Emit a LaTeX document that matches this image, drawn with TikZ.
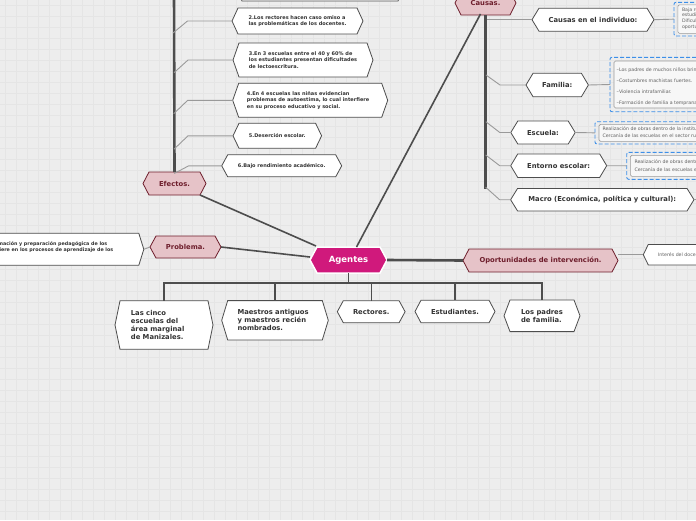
\documentclass[tikz,border=0pt]{standalone}
\usepackage{fontspec}
\setmainfont{DejaVu Sans}
\usetikzlibrary{calc}
\definecolor{bg}{HTML}{EDEDED}
\definecolor{gridc}{HTML}{E5E5E5}
\definecolor{mag}{HTML}{D0197C}
\definecolor{pinkf}{HTML}{E6C3C8}
\definecolor{maroon}{HTML}{6E1E2C}
\definecolor{dk}{HTML}{4D4D4D}
\definecolor{txt}{HTML}{333333}
\definecolor{lgray}{HTML}{9A9A9A}
\definecolor{blued}{HTML}{3D8FE8}
\definecolor{ngray}{HTML}{606060}
% name, cx, cy, half width, half height, point depth, path style, text style, text
\newcommand\hexbox[9]{%
  \path[#7] (#2-#4,#3) -- (#2-#4+#6,#3-#5) -- (#2+#4-#6,#3-#5) -- (#2+#4,#3)
     -- (#2+#4-#6,#3+#5) -- (#2-#4+#6,#3+#5) -- cycle;
  \node[shapebox, minimum width=2*#4, minimum height=2*#5] (#1) at (#2,#3) {};
  \node[#8] (#1t) at (#2,#3) {#9};
}
\begin{document}
\begin{tikzpicture}[x=1pt,y=-1pt,
  shapebox/.style={inner sep=0pt, outer sep=0pt, rectangle},
  hexc/.style={fill=mag, draw=white, line width=1.5pt},
  hext/.style={fill=pinkf, draw=maroon, line width=0.8pt},
  hexw/.style={fill=white, draw=dk, line width=0.8pt},
  ctext/.style={font=\fontsize{8.5}{10}\selectfont\bfseries, text=white, inner sep=0pt},
  ttext/.style={font=\fontsize{6.8}{8}\selectfont\bfseries, text=maroon, inner sep=0pt},
  wtext/.style={font=\fontsize{6.8}{8}\selectfont\bfseries, text=txt, inner sep=0pt, align=left},
  stext/.style={font=\fontsize{5}{6.5}\selectfont\bfseries, text=txt, inner sep=0pt, align=left},
  ntext/.style={font=\fontsize{4.7}{5.8}\selectfont, text=ngray, inner sep=0pt, align=left},
  mainline/.style={draw=dk, line width=1.6pt},
  mainthick/.style={draw=dk, line width=2.6pt},
  spine/.style={draw=dk, line width=2.6pt},
  branch/.style={draw=lgray, line width=0.9pt},
  barline/.style={draw=dk, line width=1.1pt},
  outerdash/.style={draw=blued, line width=0.9pt, dash pattern=on 4pt off 2pt, rounded corners=2pt, inner sep=0pt, outer sep=0pt},
  innerbox/.style={draw=lgray, fill=white!55!bg, line width=0.6pt, rounded corners=1.5pt, inner sep=0pt, outer sep=0pt},
  gridline/.style={draw=gridc, line width=0.5pt}
]
\useasboundingbox (0,0) rectangle (696,520);
\clip (0,0) rectangle (696,520);
\fill[bg] (0,0) rectangle (696,520);
\foreach \i in {5,16,...,696} \draw[gridline] (\i,0) -- (\i,520);
\foreach \j in {5,16,...,520} \draw[gridline] (0,\j) -- (696,\j);

\coordinate (eftop) at (174,-10);
\coordinate (bar) at (348.5,283);
\coordinate (maend) at (720,199.7);

% ---------- Efectos branch ----------
\hexbox{e1}{320}{-15}{84}{16}{6}{hexw}{stext}{}
\hexbox{e2}{297.5}{21}{65.5}{13}{6}{hexw}{stext}{2.Los rectores hacen caso omiso a\\las problemáticas de los docentes.}
\hexbox{e3}{303}{60}{70}{17}{6}{hexw}{stext}{3.En 3 escuelas entre el 40 y 60\% de\\los estudiantes presentan dificultades\\de lectoescritura.}
\hexbox{e4}{310.2}{100.3}{77.5}{17}{6}{hexw}{stext, anchor=west, xshift=-63.5pt}{4.En 4 escuelas las niñas evidencian\\problemas de autoestima, lo cual interfiere\\en su proceso educativo y social.}
\hexbox{e5}{277.3}{135.8}{44.3}{12.5}{6}{hexw}{stext}{5.Deserción escolar.}
\hexbox{e6}{281.7}{165.8}{60}{11}{6}{hexw}{stext}{6.Bajo rendimiento académico.}

% ---------- topics ----------
\hexbox{ef}{174.5}{183.5}{31.5}{11.5}{6}{hext}{ttext}{Efectos.}
\hexbox{ca}{485.5}{3}{30.5}{12}{6}{hext}{ttext}{Causas.}
\hexbox{pr}{185.5}{247}{35.5}{11}{6}{hext}{ttext}{Problema.}
\hexbox{op}{540.5}{260.5}{77.5}{11.5}{6}{hext}{ttext}{Oportunidades de intervención.}

% ---------- causas children ----------
\hexbox{ci}{593}{19.7}{61}{11.5}{7}{hexw}{wtext}{Causas en el individuo:}
\hexbox{fa}{557.2}{85}{31.2}{11.7}{7}{hexw}{wtext}{Familia:}
\hexbox{es}{543}{132.5}{32.2}{11.5}{7}{hexw}{wtext}{Escuela:}
\hexbox{en}{558.7}{165.7}{48}{11.7}{7}{hexw}{wtext}{Entorno escolar:}
\hexbox{ma}{602.3}{199.7}{91.7}{11.3}{7}{hexw}{wtext}{Macro (Económica, política y cultural):}

% ---------- notes ----------
\node[outerdash, minimum width=100, minimum height=33.7, anchor=north west] (n1) at (674,2.3) {};
\node[innerbox, minimum width=100, minimum height=28.5, anchor=north west] (n1i) at (677.8,4.8) {};
\node[ntext, anchor=north west] (n1t) at (681.8,7.2) {Baja rendimiento académico de los\\estudiantes.\\Dificultades de aprendizaje no\\oportunamente atendidas.};

\node[outerdash, minimum width=100, minimum height=54.4, anchor=north west] (n2) at (610,57.3) {};
\node[innerbox, minimum width=100, minimum height=47, anchor=north west] (n2i) at (614,61) {};
\node[ntext, anchor=west] (n2a) at (616.5,70) {–Los padres de muchos niños brindan poco apoyo.};
\node[ntext, anchor=west] (n2b) at (616.5,80.7) {–Costumbres machistas fuertes.};
\node[ntext, anchor=west] (n2c) at (616.5,91.3) {–Violencia intrafamiliar.};
\node[ntext, anchor=west] (n2d) at (616.5,102.7) {–Formación de familia a temprana edad.};

\node[outerdash, minimum width=110, minimum height=22.3, anchor=north west] (n3) at (595,121.7) {};
\node[innerbox, minimum width=110, minimum height=17, anchor=north west] (n3i) at (599,124.4) {};
\node[ntext, anchor=west] (n3a) at (602.3,129) {Realización de obras dentro de la institución.};
\node[ntext, anchor=west] (n3b) at (602.3,135.6) {Cercanía de las escuelas en el sector rural.};

\node[outerdash, minimum width=80, minimum height=27, anchor=north west] (n4) at (626.7,152.3) {};
\node[innerbox, minimum width=80, minimum height=21, anchor=north west] (n4i) at (630.3,155.3) {};
\node[ntext, anchor=west] (n4a) at (634.3,161.7) {Realización de obras dentro de la institución.};
\node[ntext, anchor=west] (n4b) at (634.3,169.2) {Cercanía de las escuelas en el sector rural.};

% ---------- problema / oportunidades children ----------
\hexbox{pc}{40}{249.3}{103.8}{16}{5}{hexw}{stext}{}
\node[stext, font=\fontsize{4.8}{5.5}\selectfont\bfseries, anchor=east] (pct1) at (107.5,244.3) {formación y preparación pedagógica de los};
\node[stext, font=\fontsize{4.8}{5.5}\selectfont\bfseries, anchor=east] (pct2) at (113.5,249.8) {interfiere en los procesos de aprendizaje de los};
\hexbox{oc}{700}{254.7}{56.7}{10.3}{5}{hexw}{stext}{}
\node[ntext, anchor=west] (oct) at (657.8,254.7) {Interés del docente por mejorar.};

% ---------- bottom agents ----------
\hexbox{lc}{164}{325}{49}{24.2}{5}{hexw}{wtext, anchor=west, xshift=-33.3pt}{Las cinco\\escuelas del\\área marginal\\de Manizales.}
\hexbox{mt}{275}{320.3}{53.3}{19.7}{6}{hexw}{wtext, anchor=west, xshift=-37.7pt}{Maestros antiguos\\y maestros recién\\nombrados.}
\hexbox{re}{371.2}{311.7}{33.9}{11}{6}{hexw}{wtext}{Rectores.}
\hexbox{et}{455}{311.5}{40}{11.3}{6}{hexw}{wtext}{Estudiantes.}
\hexbox{lp}{542}{315.8}{38}{15.8}{6}{hexw}{wtext}{Los padres\\de familia.}

% ---------- central ----------
\hexbox{ag}{348.5}{260}{38.5}{13}{7}{hexc}{ctext}{Agentes}

% ---------- connectors ----------
\draw[mainline] ([xshift=6pt,yshift=1pt]ag.north west) -- ([xshift=-6pt]ef.south east);
\draw[mainline] ([xshift=8pt]ag.north) -- ([xshift=-5pt,yshift=1pt]ca.south);
\draw[mainline] ([yshift=3pt]ag.west) -- (pr.east);
\draw[mainthick] (ag.east) -- (op.west);
\draw[spine] (ef.north) -- (eftop);
\draw[branch] (e2.west) -- ++(-44.5,0) -- ++(-14.5,12);
\draw[branch] (e3.west) -- ++(-45,0) -- ++(-14,12.7);
\draw[branch] (e4.west) -- ++(-45,0) -- ++(-14,13.4);
\draw[branch] (e5.west) -- ++(-45,0) -- ++(-14,13.4);
\draw[branch] (e6.west) -- ++(-33,0) -- ++(-14.5,7.7);
\draw[spine] (ca.south) -- ++(0,174);
\draw[branch] (ci.west) -- ++(-45.5,0);
\draw[branch] (fa.west) -- ++(-26,0) -- ++(-14,-10);
\draw[branch] (es.west) -- ++(-11,0) -- ++(-14,-10.8);
\draw[branch] (en.west) -- ++(-11,0) -- ++(-14,-10.7);
\draw[branch] (ma.west) -- ++(-11,0) -- ++(-14,-12.5);
\draw[branch] (ci.east) -- (n1.west);
\draw[branch] (fa.east) -- (n2.west);
\draw[branch] (es.east) -- (n3.west);
\draw[branch] (en.east) -- (n4.west);
\draw[branch] (ma.east) -- (maend);
\draw[branch] (pr.west) -- (pc.east);
\draw[branch] (oc.west) -- (oc.west -| op.east);
\draw[barline] (ag.south) -- (bar);
\draw[barline] (lc.north) |- (bar) -| (lp.north);
\draw[barline] (mt.north) -- (mt.north |- bar);
\draw[barline] (re.north) -- (re.north |- bar);
\draw[barline] (et.north) -- (et.north |- bar);
\end{tikzpicture}
\end{document}
